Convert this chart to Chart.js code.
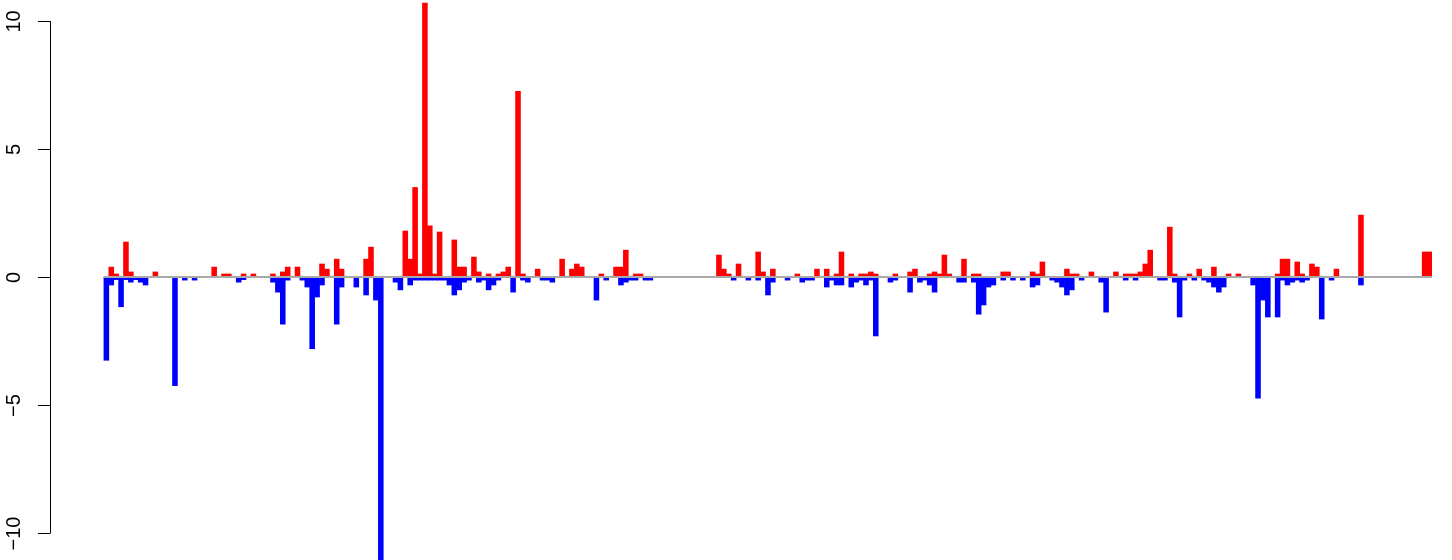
<!DOCTYPE html>
<html>
<head>
<meta charset="utf-8">
<script src="https://cdn.jsdelivr.net/npm/chart.js@4.4.1/dist/chart.umd.min.js"></script>
<style>
  html, body { margin: 0; padding: 0; background: #fff; }
  #wrap { width: 1452px; height: 560px; }
</style>
</head>
<body>
<div id="wrap"><canvas id="chart"></canvas></div>
<script>
"use strict";

//------------------------- data ---------------------------------
// red bars (gains), one value per position
const gains = [
  0, 0.39, 0.12, 0, 1.37, 0.2, 0, 0, 0, 0,
  0.2, 0, 0, 0, 0, 0, 0, 0, 0, 0,
  0, 0, 0.39, 0, 0.12, 0.12, 0, 0, 0.12, 0,
  0.12, 0, 0, 0, 0.12, 0, 0.2, 0.39, 0, 0.39,
  0, 0, 0, 0, 0.51, 0.31, 0, 0.7, 0.31, 0,
  0, 0, 0, 0.7, 1.17, 0, 0, 0, 0, 0,
  0, 1.8, 0.7, 3.5, 0.12, 10.7, 2.0, 0.12, 1.76, 0,
  0, 1.45, 0.39, 0.39, 0, 0.78, 0.2, 0, 0.12, 0,
  0.12, 0.2, 0.39, 0, 7.25, 0.12, 0, 0, 0.31, 0,
  0, 0, 0, 0.7, 0, 0.31, 0.51, 0.39, 0, 0,
  0, 0.12, 0, 0, 0.39, 0.39, 1.05, 0, 0.12, 0.12,
  0, 0, 0, 0, 0, 0, 0, 0, 0, 0,
  0, 0, 0, 0, 0, 0.86, 0.31, 0.12, 0, 0.51,
  0, 0, 0, 0.98, 0.2, 0, 0.31, 0, 0, 0,
  0, 0.12, 0, 0, 0, 0.31, 0, 0.31, 0, 0.12,
  0.98, 0, 0.12, 0, 0.12, 0.12, 0.2, 0.12, 0, 0,
  0, 0.12, 0, 0, 0.2, 0.31, 0, 0, 0.12, 0.2,
  0.12, 0.86, 0.12, 0, 0, 0.7, 0, 0.12, 0.12, 0,
  0, 0, 0, 0.2, 0.2, 0, 0, 0, 0, 0.2,
  0.12, 0.59, 0, 0, 0, 0, 0.31, 0.12, 0.12, 0,
  0, 0.2, 0, 0, 0, 0, 0.2, 0, 0.12, 0.12,
  0.12, 0.2, 0.51, 1.05, 0, 0, 0, 1.95, 0.12, 0,
  0, 0.12, 0, 0.31, 0, 0, 0.39, 0, 0, 0.12,
  0, 0.12, 0, 0, 0, 0, 0, 0, 0, 0.12,
  0.7, 0.7, 0, 0.59, 0.12, 0, 0.51, 0.39, 0, 0,
  0, 0.31, 0, 0, 0, 0, 2.42, 0, 0, 0,
  0, 0, 0, 0, 0, 0, 0, 0, 0, 0.98,
  0.98
];
// blue bars (losses)
const losses = [
  -3.25, -0.31, -0.1, -1.16, -0.1, -0.2, -0.1, -0.2, -0.31, 0,
  0, 0, 0, 0, -4.24, 0, -0.12, 0, -0.12, 0,
  0, 0, 0, 0, 0, 0, 0, -0.2, -0.1, 0,
  0, 0, 0, 0, -0.2, -0.59, -1.84, -0.12, 0, 0,
  -0.12, -0.39, -2.8, -0.78, -0.31, 0, 0, -1.84, -0.39, 0,
  0, -0.39, 0, -0.7, 0, -0.9, -11.05, 0, 0, -0.2,
  -0.5, 0, -0.31, -0.12, -0.12, -0.12, -0.12, -0.12, -0.12, -0.12,
  -0.31, -0.7, -0.5, -0.2, -0.12, 0, -0.2, -0.12, -0.5, -0.31,
  -0.12, 0, 0, -0.59, 0, -0.12, -0.2, 0, 0, -0.12,
  -0.12, -0.2, 0, 0, 0, 0, 0, 0, 0, 0,
  -0.9, 0, -0.12, 0, 0, -0.31, -0.2, -0.12, -0.12, 0,
  -0.12, -0.12, 0, 0, 0, 0, 0, 0, 0, 0,
  0, 0, 0, 0, 0, 0, 0, 0, -0.12, 0,
  0, -0.12, 0, -0.12, 0, -0.7, -0.2, 0, 0, -0.12,
  0, 0, -0.2, -0.12, -0.12, 0, 0, -0.39, -0.12, -0.31,
  -0.31, 0, -0.39, -0.2, -0.12, -0.31, -0.12, -2.3, 0, 0,
  -0.2, -0.12, 0, 0, -0.59, 0, -0.2, -0.12, -0.31, -0.59,
  0, 0, 0, 0, -0.2, -0.2, 0, -0.2, -1.45, -1.09,
  -0.39, -0.31, 0, -0.12, 0, -0.12, 0, -0.12, 0, -0.39,
  -0.31, 0, 0, -0.12, -0.2, -0.39, -0.7, -0.5, 0, -0.12,
  0, 0, 0, -0.2, -1.37, 0, 0, 0, -0.12, 0,
  -0.12, 0, 0, 0, 0, -0.12, -0.12, 0, -0.2, -1.56,
  -0.12, 0, -0.12, 0, -0.12, -0.2, -0.39, -0.59, -0.39, 0,
  0, 0, 0, 0, -0.31, -4.73, -0.9, -1.56, 0, -1.56,
  -0.12, -0.31, -0.2, -0.12, -0.2, -0.12, 0, 0, -1.64, 0,
  -0.12, 0, 0, 0, 0, 0, -0.31, 0, 0, 0,
  0, 0, 0, 0, 0, 0, 0, 0, 0, 0,
  0
];
const yTicks = [-10, -5, 0, 5, 10];

//------------------------- helpers ---------------------------------
// bar centre = index + 0.5, zeros are left out
function toPoints(values) {
  let points = [];
  values.forEach((v, i) => {
    if (v !== 0) points.push({ x: i + 0.5, y: v });
  });
  return points;
}

// R-style left axis + grey zero line
const baseAxis = {
  id: "baseAxis",
  afterDatasetsDraw(chart) {
    const ctx = chart.ctx;
    const xs = chart.scales.x;
    const ys = chart.scales.y;
    const x0 = xs.left;
    ctx.save();
    // grey line under the bars
    ctx.strokeStyle = "#a9a9a9";
    ctx.lineWidth = 2;
    ctx.beginPath();
    ctx.moveTo(xs.getPixelForValue(0), ys.getPixelForValue(0));
    ctx.lineTo(xs.getPixelForValue(gains.length), ys.getPixelForValue(0));
    ctx.stroke();
    // axis line
    ctx.strokeStyle = "#000";
    ctx.lineWidth = 1;
    ctx.beginPath();
    ctx.moveTo(x0 + 0.5, ys.getPixelForValue(yTicks[0]));
    ctx.lineTo(x0 + 0.5, ys.getPixelForValue(yTicks[yTicks.length - 1]));
    ctx.stroke();
    ctx.font = "20px 'Liberation Sans', Arial, sans-serif";
    ctx.fillStyle = "#000";
    ctx.textAlign = "center";
    ctx.textBaseline = "middle";
    for (let t of yTicks) {
      const y = Math.round(ys.getPixelForValue(t)) + 0.5;
      ctx.beginPath();
      ctx.moveTo(x0 - 12, y);
      ctx.lineTo(x0 + 0.5, y);
      ctx.stroke();
      ctx.save();
      ctx.translate(x0 - 36, y);
      ctx.rotate(-Math.PI / 2);
      ctx.fillText(t < 0 ? "\u2212" + Math.abs(t) : String(t), 0, 0);
      ctx.restore();
    }
    ctx.restore();
  }
};

//------------------------- chart ---------------------------------
new Chart(document.getElementById("chart"), {
  type: "bar",
  data: {
    datasets: [
      { data: toPoints(gains), backgroundColor: "#ff0000", grouped: false },
      { data: toPoints(losses), backgroundColor: "#0000ff", grouped: false }
    ]
  },
  options: {
    responsive: true,
    maintainAspectRatio: false,
    animation: false,
    datasets: { bar: { categoryPercentage: 1, barPercentage: 1, borderWidth: 0 } },
    layout: { padding: { left: 50, right: 20, top: 0, bottom: 0 } },
    plugins: { legend: { display: false }, tooltip: { enabled: false } },
    scales: {
      x: { type: "linear", display: false, min: -11, max: gains.length, offset: false },
      y: { display: false, min: -11.05, max: 10.82 }
    }
  },
  plugins: [baseAxis]
});
</script>
</body>
</html>
